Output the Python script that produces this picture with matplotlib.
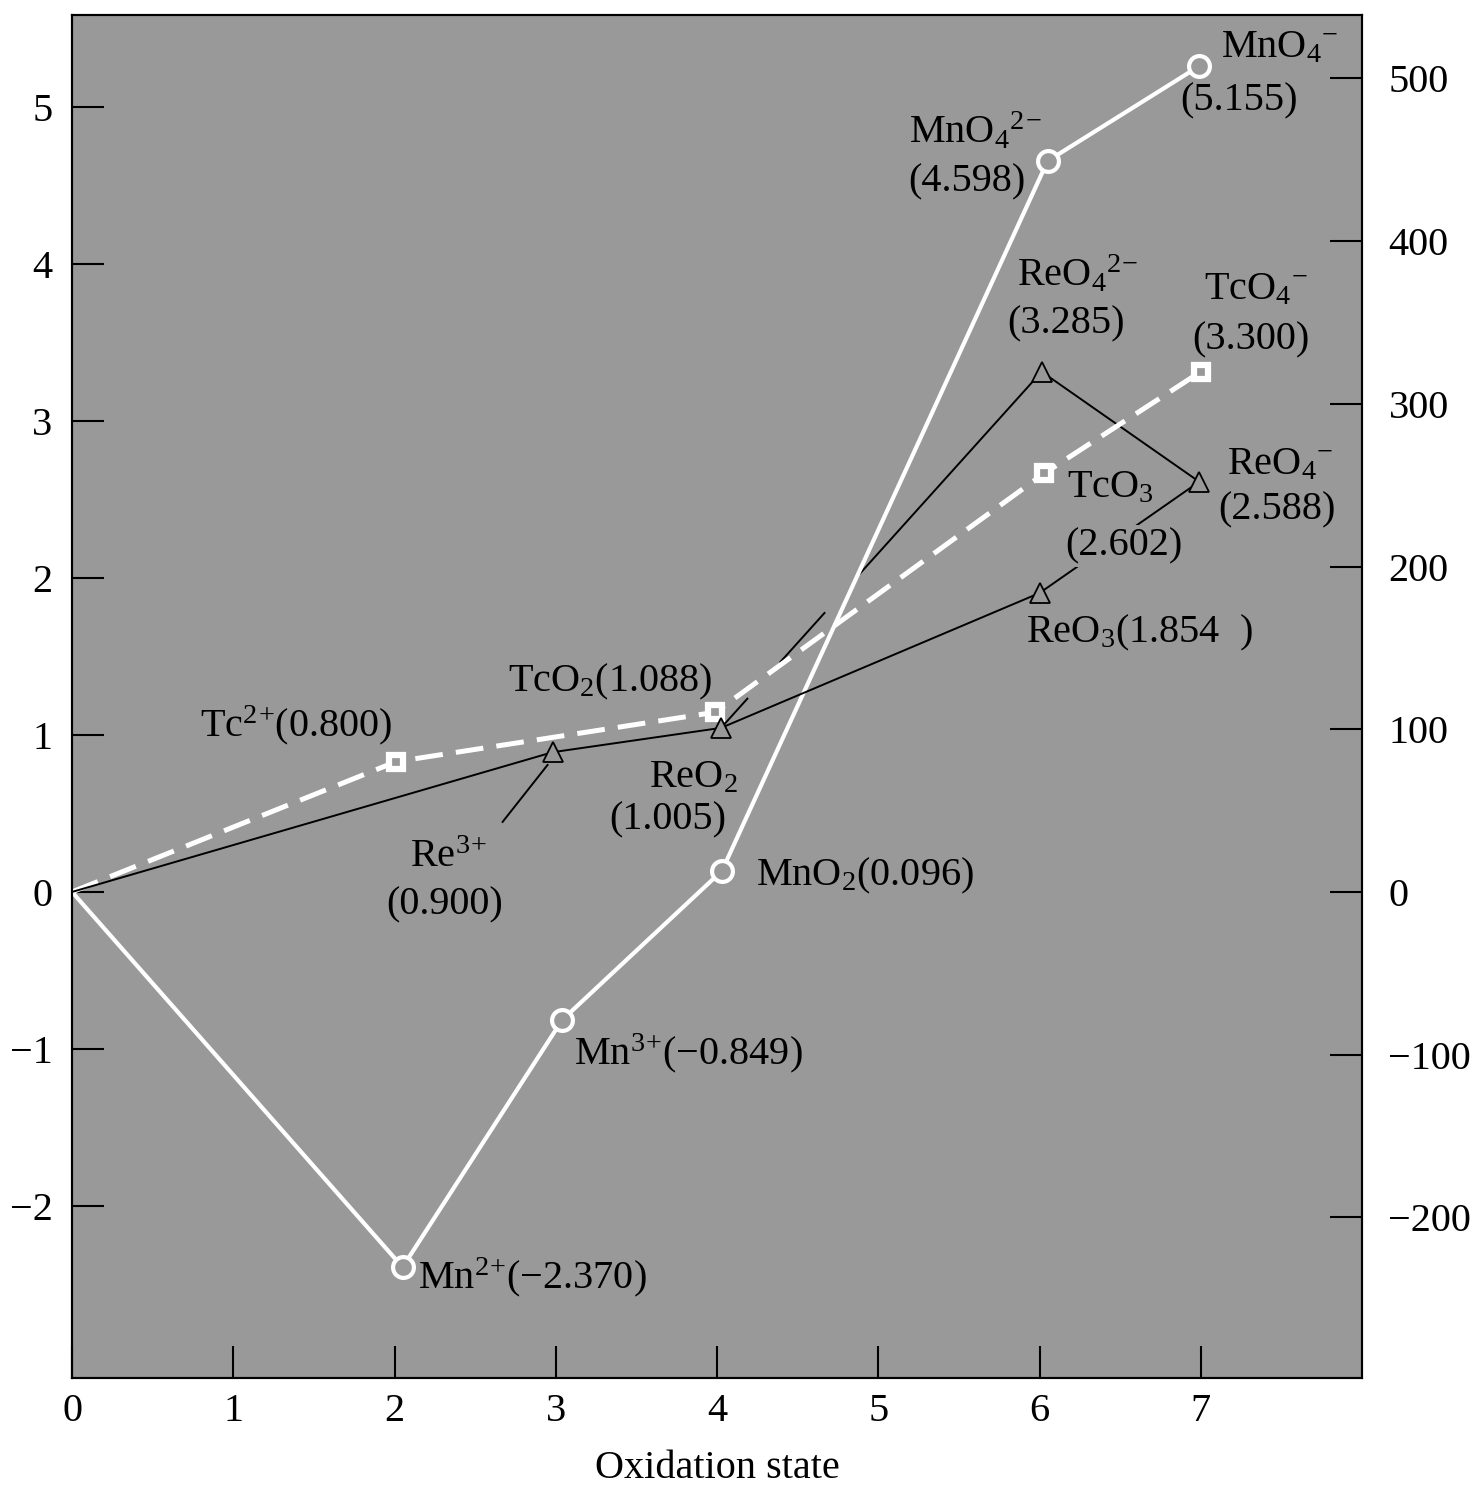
import matplotlib
matplotlib.use("Agg")
import matplotlib.pyplot as plt

plt.rcParams['font.family'] = ['Liberation Serif', 'DejaVu Serif']
plt.rcParams['mathtext.fontset'] = 'custom'
plt.rcParams['mathtext.rm'] = 'Liberation Serif'
plt.rcParams['mathtext.it'] = 'Liberation Serif:italic'
plt.rcParams['lines.scale_dashes'] = False

EV_TO_KJ = 96.485

# oxidation state / volt-equivalent (nE)
mn_x = [0, 2.05, 3.04, 4.03, 6.05, 6.99]
mn_y = [0, -2.39, -0.815, 0.134, 4.656, 5.26]

tc_x = [0, 2.01, 3.99, 6.03, 7.0]
tc_y = [0, 0.83, 1.145, 2.667, 3.314]

re_x = [0, 2.98, 4.025, 6.0, 6.99]   # Re3+, ReO2, ReO3, ReO4-
re_y = [0, 0.89, 1.045, 1.904, 2.613]
reo4_2_x = 6.013                      # ReO4 2-
reo4_2_y = 3.314

bg = '#999999'

fig = plt.figure(figsize=(14.76, 14.86), dpi=100)
ax = fig.add_axes([0.0488, 0.0727, 0.874, 0.9172])
ax.set_facecolor(bg)
ax.set_xlim(0, 8)
ax.set_ylim(-3.096, 5.586)

# Re : thin black, open triangles
ax.plot([re_x[2], reo4_2_x], [re_y[2], reo4_2_y], color='black', lw=1.4,
        linestyle=(0, (29, 34, 49, 37, 300, 10)), zorder=3)
ax.plot([reo4_2_x, re_x[4]], [reo4_2_y, re_y[4]], color='black', lw=1.4, zorder=3)
ax.plot(re_x, re_y, color='black', lw=1.4, zorder=5)

# Mn : white solid, open circles
ax.plot(mn_x, mn_y, color='white', lw=3, zorder=4)
ax.plot(mn_x[1:], mn_y[1:], 'o', ms=15, mfc=bg, mec='white', mew=3, zorder=6)

# Tc : white dashed, open squares
ax.plot(tc_x, tc_y, color='white', lw=3.6, linestyle=(0, (20, 9.5)), zorder=4)
ax.plot(tc_x[1:], tc_y[1:], 's', ms=10, mfc=bg, mec='white', mew=4.5, zorder=6)

ax.plot(re_x[1:] + [reo4_2_x], re_y[1:] + [reo4_2_y], '^', ms=14, mfc=bg,
        mec='black', mew=1.3, zorder=7)

# leader for Re3+
ax.plot([2.67, 2.949], [0.446, 0.809], color='black', lw=1.4, zorder=5)

fs = 29
txt = dict(fontsize=fs, zorder=8)
ax.text(7.124, 5.376, r"MnO$_4{}^{-}$", ha='left', va='center', **txt)
ax.text(7.235, 5.038, "(5.155)", ha='center', va='center', **txt)
ax.text(5.191, 4.841, r"MnO$_4{}^{2}{}^{-}$", ha='left', va='center', **txt)
ax.text(5.55, 4.522, "(4.598)", ha='center', va='center', **txt)
ax.text(5.86, 3.93, r"ReO$_4{}^{2}{}^{-}$", ha='left', va='center', **txt)
ax.text(6.164, 3.618, "(3.285)", ha='center', va='center', **txt)
ax.text(7.019, 3.834, r"TcO$_4{}^{-}$", ha='left', va='center', **txt)
ax.text(7.31, 3.516, "(3.300)", ha='center', va='center', **txt)
ax.text(7.161, 2.72, r"ReO$_4{}^{-}$", ha='left', va='center', **txt)
ax.text(7.471, 2.433, "(2.588)", ha='center', va='center', **txt)
ax.text(6.17, 2.573, r"TcO$_3$", ha='left', va='center', **txt)
ax.text(6.523, 2.204, "(2.602)", ha='center', va='center',
        bbox=dict(facecolor=bg, edgecolor='none', pad=2), **txt)
ax.text(5.916, 1.65, r"ReO$_3$(1.854  )", ha='left', va='center', **txt)
ax.text(2.701, 1.338, r"TcO$_2$(1.088)", ha='left', va='center', **txt)
ax.text(0.793, 1.064, r"Tc$^{2}{}^{+}$(0.800)", ha='left', va='center', **txt)
ax.text(3.581, 0.726, r"ReO$_2$", ha='left', va='center', **txt)
ax.text(3.692, 0.459, "(1.005)", ha='center', va='center', **txt)
ax.text(2.094, 0.217, r"Re$^{3}{}^{+}$", ha='left', va='center', **txt)
ax.text(2.311, -0.083, "(0.900)", ha='center', va='center', **txt)
ax.text(4.243, 0.102, r"MnO$_2$(0.096)", ha='left', va='center', **txt)
ax.text(3.116, -1.025, "Mn$^{3}{}^{+}$(\u22120.849)", ha='left', va='center', **txt)
ax.text(2.143, -2.452, "Mn$^{2}{}^{+}$(\u22122.370)", ha='left', va='center', **txt)

ax.set_xticks(range(0, 8))
ax.set_yticks(range(-2, 6))
ax.tick_params(direction='in', length=23, width=1.5, labelsize=fs)
ax.tick_params(axis='y', pad=14)
ax.tick_params(axis='x', pad=11)
ax.set_xlabel("Oxidation state", fontsize=fs, labelpad=14)

ax2 = ax.twinx()
ax2.set_ylim(-3.096 * EV_TO_KJ, 5.586 * EV_TO_KJ)
ax2.set_yticks(range(-200, 600, 100))
ax2.tick_params(direction='in', length=23, width=1.5, labelsize=fs, pad=19)

for a in (ax, ax2):
    for s in a.spines.values():
        s.set_linewidth(1.5)

fig.savefig("out.png", dpi=100)
